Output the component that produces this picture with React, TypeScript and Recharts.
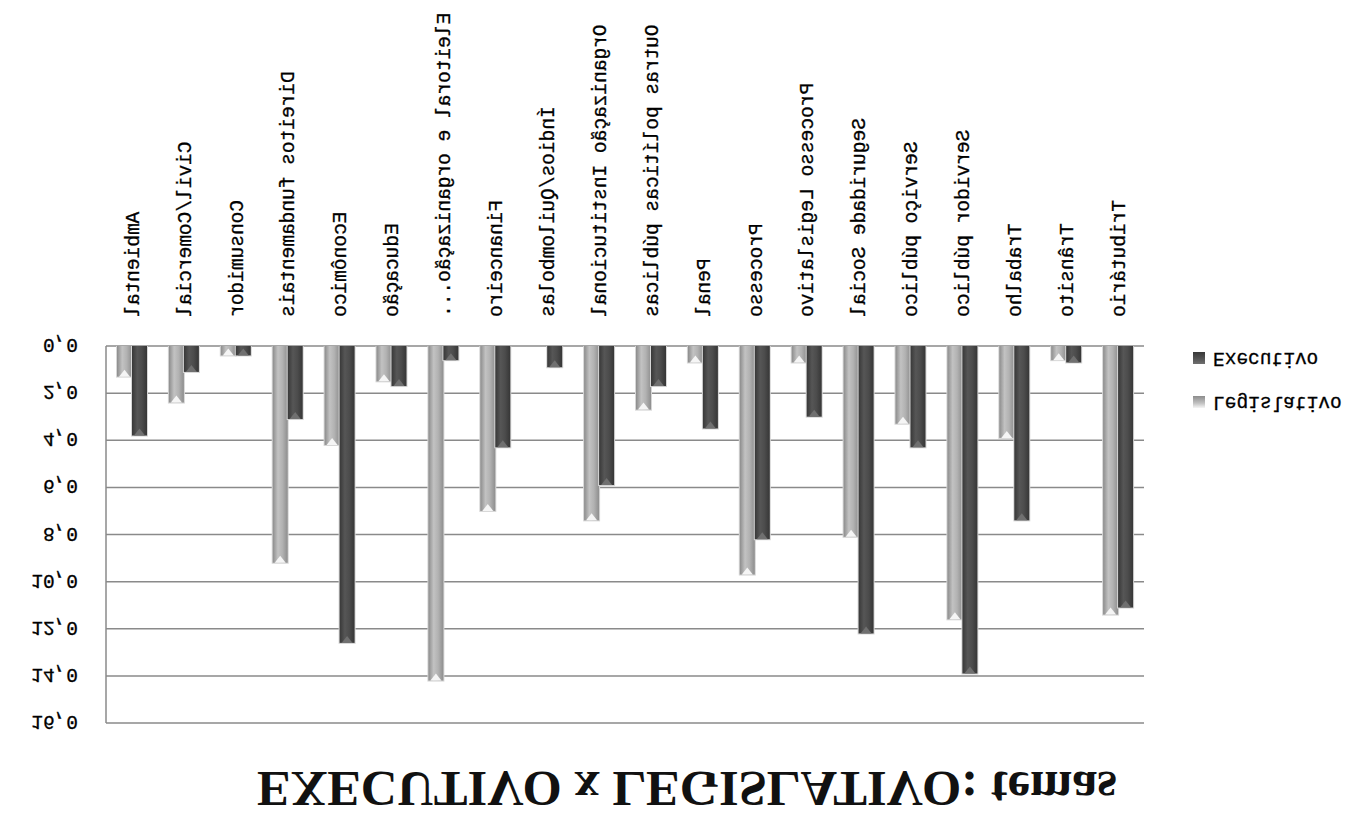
import { BarChart, Bar, XAxis, YAxis, CartesianGrid } from 'recharts'

// temas, in chart order
const categories = [
  'Ambiental',
  'Civil/Comercial',
  'Consumidor',
  'Direitos fundamentais',
  'Econômico',
  'Educação',
  'Eleitoral e organização...',
  'Financeiro',
  'Índios/Quilombolas',
  'Organização Institucional',
  'Outras políticas públicas',
  'Penal',
  'Processo',
  'Processo Legislativo',
  'Seguridade Social',
  'Serviço público',
  'Servidor público',
  'Trabalho',
  'Trânsito',
  'Tributário',
]

const legislativo = [1.3, 2.4, 0.4, 9.2, 4.2, 1.5, 14.2, 7.0, 0, 7.4, 2.7, 0.7, 9.7, 0.7, 8.1, 3.3, 11.6, 3.9, 0.6, 11.4]
const executivo = [3.8, 1.1, 0.4, 3.1, 12.6, 1.7, 0.6, 4.3, 0.9, 5.9, 1.7, 3.5, 8.2, 3.0, 12.2, 4.3, 13.9, 7.4, 0.7, 11.1]

const yTicks = [0, 2, 4, 6, 8, 10, 12, 14, 16]

const series = [
  { key: 'legislativo', name: 'Legislativo', tone: 'leg' },
  { key: 'executivo', name: 'Executivo', tone: 'exe' },
]

const data = categories.map((tema, i) => ({
  tema,
  legislativo: legislativo[i],
  executivo: executivo[i],
}))

const MONO = '"Liberation Mono", "DejaVu Sans Mono", monospace'
const GRID = '#8a8a8a'

const TONES: Record<string, { stops: string[]; cap: string }> = {
  leg: { stops: ['#8c8c8c', '#c2c2c2', '#b2b2b2', '#8e8e8e'], cap: '#f5f5f5' },
  exe: { stops: ['#383838', '#565656', '#4c4c4c', '#363636'], cap: '#707070' },
}

function CylinderBar(props: any) {
  const { x, y, width, height, tone } = props
  if (!height || height <= 0.5) return null
  const t = TONES[tone]
  const tri = Math.min(7, height)
  return (
    <g>
      <rect x={x - 1} y={y - 1} width={width + 2} height={height + 1} fill="#d6d6d6" />
      <rect x={x} y={y} width={width} height={height} fill={`url(#grad-${tone})`} />
      <polygon
        points={`${x + 2},${y} ${x + width - 2},${y} ${x + width / 2},${y + tri}`}
        fill={t.cap}
      />
    </g>
  )
}

function CategoryTick({ x, y, payload }: any) {
  const ty = y + 29
  return (
    <text
      x={x}
      y={ty}
      transform={`rotate(-90, ${x}, ${ty})`}
      textAnchor="end"
      dy="0.35em"
      fontFamily={MONO}
      fontSize={19.5}
      fill="#000"
      stroke="#000"
      strokeWidth={0.3}
    >
      {payload.value}
    </text>
  )
}

export default function App() {
  return (
    <div
      style={{
        position: 'absolute',
        left: 0,
        top: 0,
        width: 1359,
        height: 830,
        background: '#fff',
        transform: 'scaleY(-1)',
        overflow: 'hidden',
      }}
    >
      <svg width={1359} height={100} style={{ position: 'absolute', left: 0, top: 0 }}>
        <text
          x={687}
          y={58}
          textAnchor="middle"
          fontFamily='"Liberation Serif", serif'
          fontWeight="bold"
          fontSize={50}
          textLength={860}
          lengthAdjust="spacingAndGlyphs"
          fill="#111"
        >
          EXECUTIVO x LEGISLATIVO: temas
        </text>
      </svg>

      <div style={{ position: 'absolute', left: 0, top: 0 }}>
        <BarChart
          width={1359}
          height={830}
          data={data}
          barGap={0}
          margin={{ top: 107, right: 215, bottom: 16, left: 0 }}
        >
          <defs>
            {Object.entries(TONES).map(([k, t]) => (
              <linearGradient key={k} id={`grad-${k}`} x1="0" y1="0" x2="1" y2="0">
                <stop offset="0" stopColor={t.stops[0]} />
                <stop offset="0.35" stopColor={t.stops[1]} />
                <stop offset="0.65" stopColor={t.stops[2]} />
                <stop offset="1" stopColor={t.stops[3]} />
              </linearGradient>
            ))}
          </defs>
          <CartesianGrid vertical={false} stroke={GRID} strokeWidth={1.5} />
          <XAxis
            dataKey="tema"
            height={330}
            interval={0}
            axisLine={false}
            tickLine={false}
            tickSize={0}
            tickMargin={0}
            tick={<CategoryTick />}
          />
          <YAxis
            width={106}
            domain={[0, 16]}
            ticks={yTicks}
            interval={0}
            tickLine={false}
            tickSize={0}
            tickMargin={28}
            axisLine={{ stroke: GRID, strokeWidth: 1.5 }}
            tick={{ fontFamily: MONO, fontSize: 19.5, fill: '#000', stroke: '#000', strokeWidth: 0.3 }}
            tickFormatter={(v: number) => v.toFixed(1).replace('.', ',')}
          />
          {series.map((s) => (
            <Bar
              key={s.key}
              dataKey={s.key}
              name={s.name}
              barSize={15}
              isAnimationActive={false}
              shape={(p: any) => <CylinderBar {...p} tone={s.tone} />}
            />
          ))}
        </BarChart>
      </div>

      {series.map((s, i) => {
        const t = TONES[s.tone]
        return (
          <div
            key={s.key}
            style={{
              position: 'absolute',
              left: 1193,
              top: 416 + i * 44,
              height: 24,
              display: 'flex',
              alignItems: 'center',
              fontFamily: MONO,
              fontSize: 19.5,
              color: '#000',
              WebkitTextStroke: '0.3px #000',
            }}
          >
            <span
              style={{
                display: 'inline-block',
                width: 12,
                height: 12,
                marginRight: 8,
                background: `linear-gradient(to bottom, ${t.cap}, ${t.stops[1]} 40%, ${t.stops[0]})`,
              }}
            />
            {s.name}
          </div>
        )
      })}
    </div>
  )
}
